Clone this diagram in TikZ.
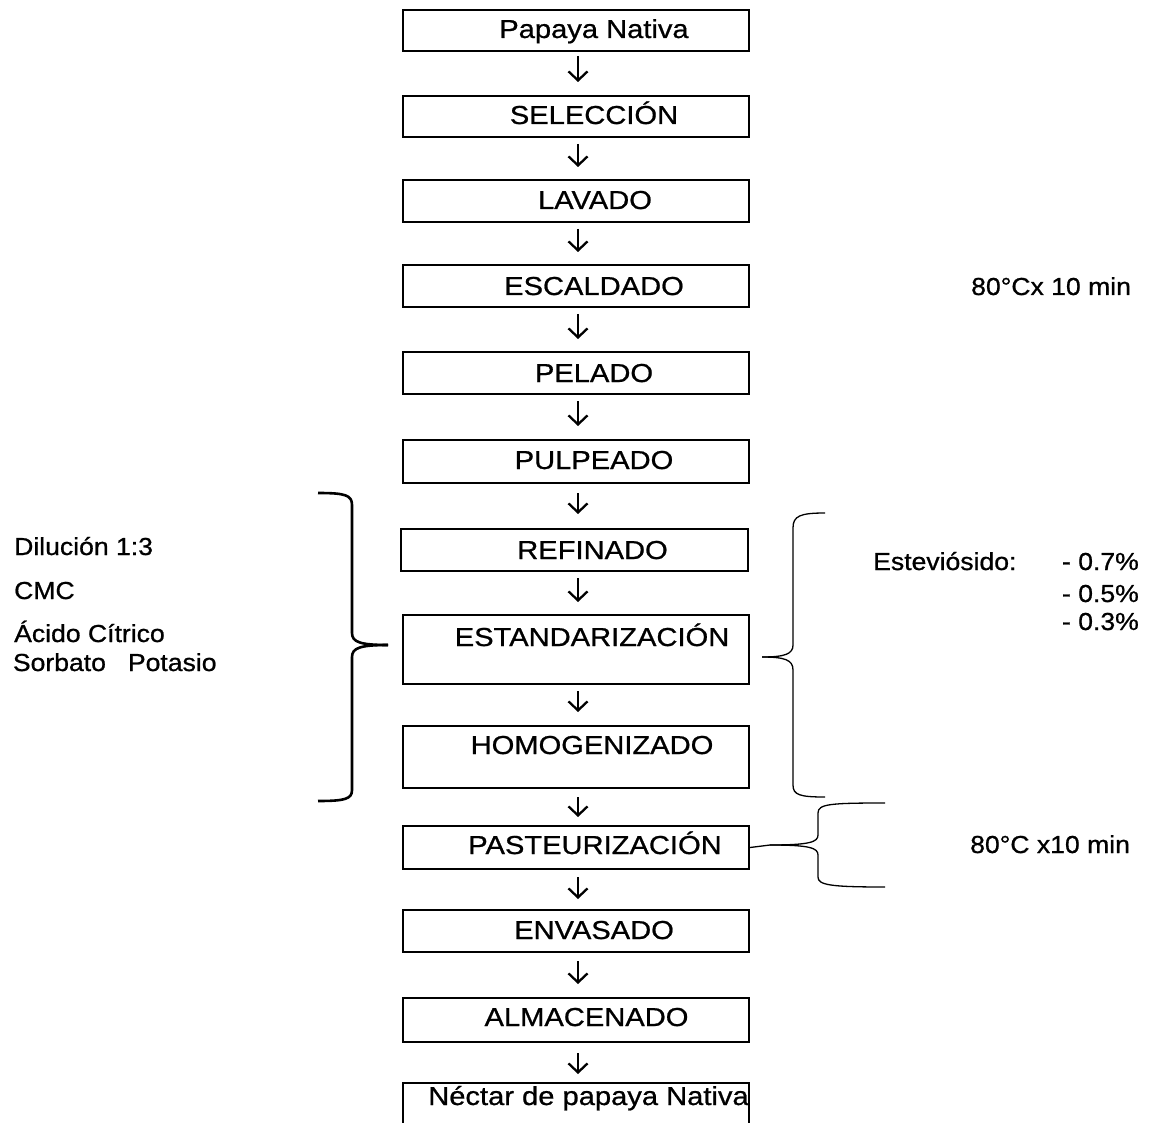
\documentclass[tikz,border=0pt]{standalone}
\usepackage{fontspec}
\setmainfont{Liberation Sans}
\newfontfamily\boxfont{Liberation Sans}[FakeStretch=1.12,FakeBold=0.8]
\newfontfamily\sidefont{Liberation Sans}[FakeStretch=1.08,FakeBold=0.8]
\usetikzlibrary{arrows.meta}
\begin{document}
\begin{tikzpicture}[x=1pt,y=-1pt,
  stepbox/.style={draw, line width=2pt, minimum width=346pt, inner sep=0pt},
  boxtxt/.style={font=\boxfont\fontsize{26pt}{30pt}\selectfont, inner sep=0pt, anchor=base},
  side/.style={font=\sidefont\fontsize{24.6pt}{29pt}\selectfont, inner sep=0pt},
  flow/.style={line width=2.3pt, -{Straight Barb[length=9pt,width=19pt,line width=2.3pt]}, shorten <=6pt, shorten >=12pt},
  thickbrace/.style={line width=2.6pt},
  thinbrace/.style={line width=1.3pt}]
\clip (0,0) rectangle (1162,1123);
\fill[white] (0,0) rectangle (1162,1123);
% boxes
\node[stepbox, minimum height=41pt] (b1) at (576,30.5) {};
\node[stepbox, minimum height=41pt] (b2) at (576,116.5) {};
\node[stepbox, minimum height=42pt] (b3) at (576,201) {};
\node[stepbox, minimum height=42pt] (b4) at (576,286) {};
\node[stepbox, minimum height=42pt] (b5) at (576,373) {};
\node[stepbox, minimum height=43pt] (b6) at (576,461.5) {};
\node[stepbox, minimum height=42pt, minimum width=347pt] (b7) at (574.5,550) {};
\node[stepbox, minimum height=69pt] (b8) at (576,649.5) {};
\node[stepbox, minimum height=62pt] (b9) at (576,757) {};
\node[stepbox, minimum height=43pt] (b10) at (576,847.5) {};
\node[stepbox, minimum height=42pt] (b11) at (576,931) {};
\node[stepbox, minimum height=44pt] (b12) at (576,1020) {};
\node[stepbox, minimum height=50pt] (b13) at (576,1108) {};
% box texts
\node[boxtxt] (t1) at (594,38) {Papaya Nativa};
\node[boxtxt] (t2) at (594,124) {SELECCIÓN};
\node[boxtxt] (t3) at (595,209) {LAVADO};
\node[boxtxt] (t4) at (594,295) {ESCALDADO};
\node[boxtxt] (t5) at (594,382) {PELADO};
\node[boxtxt] (t6) at (594,469) {PULPEADO};
\node[boxtxt] (t7) at (592.5,559) {REFINADO};
\node[boxtxt] (t8) at (592,646) {ESTANDARIZACIÓN};
\node[boxtxt] (t9) at (592,754) {HOMOGENIZADO};
\node[boxtxt] (t10) at (595,854) {PASTEURIZACIÓN};
\node[boxtxt] (t11) at (594,939) {ENVASADO};
\node[boxtxt] (t12) at (586.5,1026) {ALMACENADO};
\node[boxtxt] (t13) at (588.5,1105) {Néctar de papaya Nativa};
% arrows
\draw[flow, shorten <=4pt, shorten >=13pt] ([xshift=2pt]b1.south) -- ([xshift=2pt]b2.north);
\draw[flow] ([xshift=2pt]b2.south) -- ([xshift=2pt]b3.north);
\draw[flow] ([xshift=2pt]b3.south) -- ([xshift=2pt]b4.north);
\draw[flow] ([xshift=2pt]b4.south) -- ([xshift=2pt]b5.north);
\draw[flow, shorten >=13pt] ([xshift=2pt]b5.south) -- ([xshift=2pt]b6.north);
\draw[flow, shorten <=9pt, shorten >=14pt] ([xshift=2pt]b6.south) -- ([xshift=3.5pt]b7.north);
\draw[flow] ([xshift=3.5pt]b7.south) -- ([xshift=2pt]b8.north);
\draw[flow, shorten >=13pt] ([xshift=2pt]b8.south) -- ([xshift=2pt]b9.north);
\draw[flow, shorten <=8pt, shorten >=8pt] ([xshift=2pt]b9.south) -- ([xshift=2pt]b10.north);
\draw[flow, shorten <=7pt, shorten >=10pt] ([xshift=2pt]b10.south) -- ([xshift=2pt]b11.north);
\draw[flow, shorten <=8pt, shorten >=13pt] ([xshift=2pt]b11.south) -- ([xshift=2pt]b12.north);
\draw[flow, shorten <=10pt, shorten >=8pt] ([xshift=2pt]b12.south) -- ([xshift=2pt]b13.north);
% right-side notes
\node[side, anchor=base west] (n1) at (971,295) {80°Cx 10 min};
\node[side, anchor=base west] (n2) at (873,570) {Esteviósido:};
\node[side, anchor=base east] (n3) at (1139,570) {- 0.7\%};
\node[side, anchor=base east] (n4) at (1139,602) {- 0.5\%};
\node[side, anchor=base east] (n5) at (1139,630) {- 0.3\%};
\node[side, anchor=base west] (n6) at (970,853) {80°C x10 min};
% left notes
\node[side, anchor=base west] (l1) at (14,555) {Dilución 1:3};
\node[side, anchor=base west] (l2) at (14,599) {CMC};
\node[side, anchor=base west] (l3) at (14,642) {Ácido Cítrico};
\node[side, anchor=base west] (l4) at (12.7,671) {Sorbato\hspace*{22pt}Potasio};
% left brace
\draw[thickbrace] (318,493) .. controls (345,493) and (352,495) .. (352,505) -- (352,633)
  .. controls (352,642) and (360,645) .. (388,645);
\draw[thickbrace] (388,645) .. controls (360,645) and (352,648) .. (352,657) -- (352,790)
  .. controls (352,799) and (345,801) .. (318,801);
% right brace 1
\draw[thinbrace] (825,513) .. controls (800,513) and (793,516) .. (793,528) -- (793,645)
  .. controls (793,654) and (785,657) .. (762,657);
\draw[thinbrace] (762,657) .. controls (785,657) and (793,660) .. (793,670) -- (793,785)
  .. controls (793,795) and (800,797) .. (825,797);
% right brace 2 (from PASTEURIZACION)
\coordinate (p2) at (770,845);
\draw[thinbrace] (b10.east) -- (p2);
\draw[thinbrace] (885,803) .. controls (830,803) and (818,804) .. (818,813) -- (818,835)
  .. controls (818,842) and (810,845) .. (p2);
\draw[thinbrace] (p2) .. controls (810,845) and (818,848) .. (818,855) -- (818,877)
  .. controls (818,885) and (830,887) .. (885,887);
\end{tikzpicture}
\end{document}
